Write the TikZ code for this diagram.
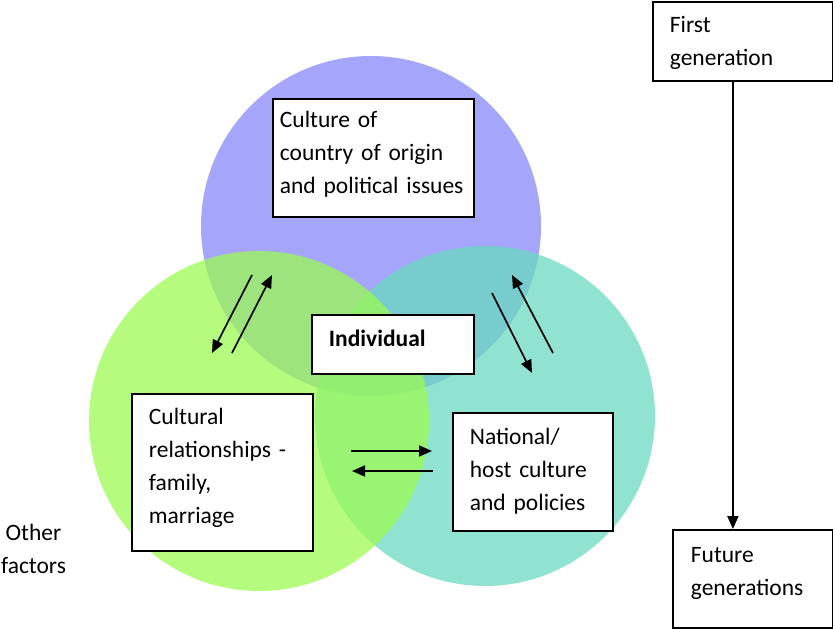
\documentclass[tikz,border=0pt]{standalone}
\usepackage{fontspec}
\setmainfont{Carlito}
\usetikzlibrary{arrows.meta}

\definecolor{originblue}{RGB}{165,165,251}
\definecolor{hostteal}{RGB}{106,218,192}
\definecolor{familygreen}{RGB}{156,250,82}

\begin{document}
\begin{tikzpicture}[x=1pt, y=-1pt,
  box/.style={draw, line width=1.8pt, fill=white, anchor=north west, align=left,
    inner xsep=17pt, inner ysep=0pt, font=\fontsize{23.5}{33}\selectfont},
  flow/.style={line width=1.7pt, -{Triangle[length=13pt,width=11pt]}}]
  \useasboundingbox (0,0) rectangle (833,629);
  % the three circles
  \fill[originblue] (371,226) circle (170pt);
  \fill[hostteal, fill opacity=.75] (485,416) circle (170pt);
  \fill[familygreen, fill opacity=.75] (259,421) circle (170pt);

  \node[box, text width=187pt, inner xsep=7pt, text height=29pt, text depth=89pt] (origin) at (272,98) {Culture of\\country of origin\\and political issues};
  \node[box, text width=128pt, text height=32pt, text depth=27pt, font=\fontsize{23.5}{33}\selectfont\bfseries] (indiv) at (311,314) {Individual};
  \node[box, text width=147pt, text height=31pt, text depth=126pt] (family) at (131,393) {Cultural\\relationships -\\family,\\marriage};
  \node[box, text width=126pt, text height=32pt, text depth=86pt] (host) at (452,412) {National/\\host culture\\and policies};
  \node[box, text width=146pt, text height=31pt, text depth=48pt] (first) at (652,1) {First\\generation};
  \node[box, text width=124pt, inner xsep=18pt, text height=33pt, text depth=65pt] (future) at (672,529) {Future\\generations};
  \node[anchor=north, align=center, text width=80pt, inner sep=0pt, text height=0pt,
    font=\fontsize{23.5}{33}\selectfont] (other) at (33.5,540) {Other\\factors};

  % free arrows between the circles
  \coordinate (fam-up-s) at (232,353);   \coordinate (fam-up-e) at (272,275);
  \coordinate (fam-dn-s) at (252,275);   \coordinate (fam-dn-e) at (212,353);
  \coordinate (host-up-s) at (553,353);  \coordinate (host-up-e) at (512,275);
  \coordinate (host-dn-s) at (492,293);  \coordinate (host-dn-e) at (532,373);
  \coordinate (mid-r-s) at (351,451);    \coordinate (mid-r-e) at (432,451);
  \coordinate (mid-l-s) at (433,471);    \coordinate (mid-l-e) at (352,471);
  \path[flow]
  (fam-up-s) edge (fam-up-e)
  (fam-dn-s) edge (fam-dn-e)
  (host-up-s) edge (host-up-e)
  (host-dn-s) edge (host-dn-e)
  (mid-r-s) edge (mid-r-e)
  (mid-l-s) edge (mid-l-e)
  ([xshift=-10pt]first.south) edge ([xshift=-10pt]first.south |- future.north)
  ;
\end{tikzpicture}
\end{document}
